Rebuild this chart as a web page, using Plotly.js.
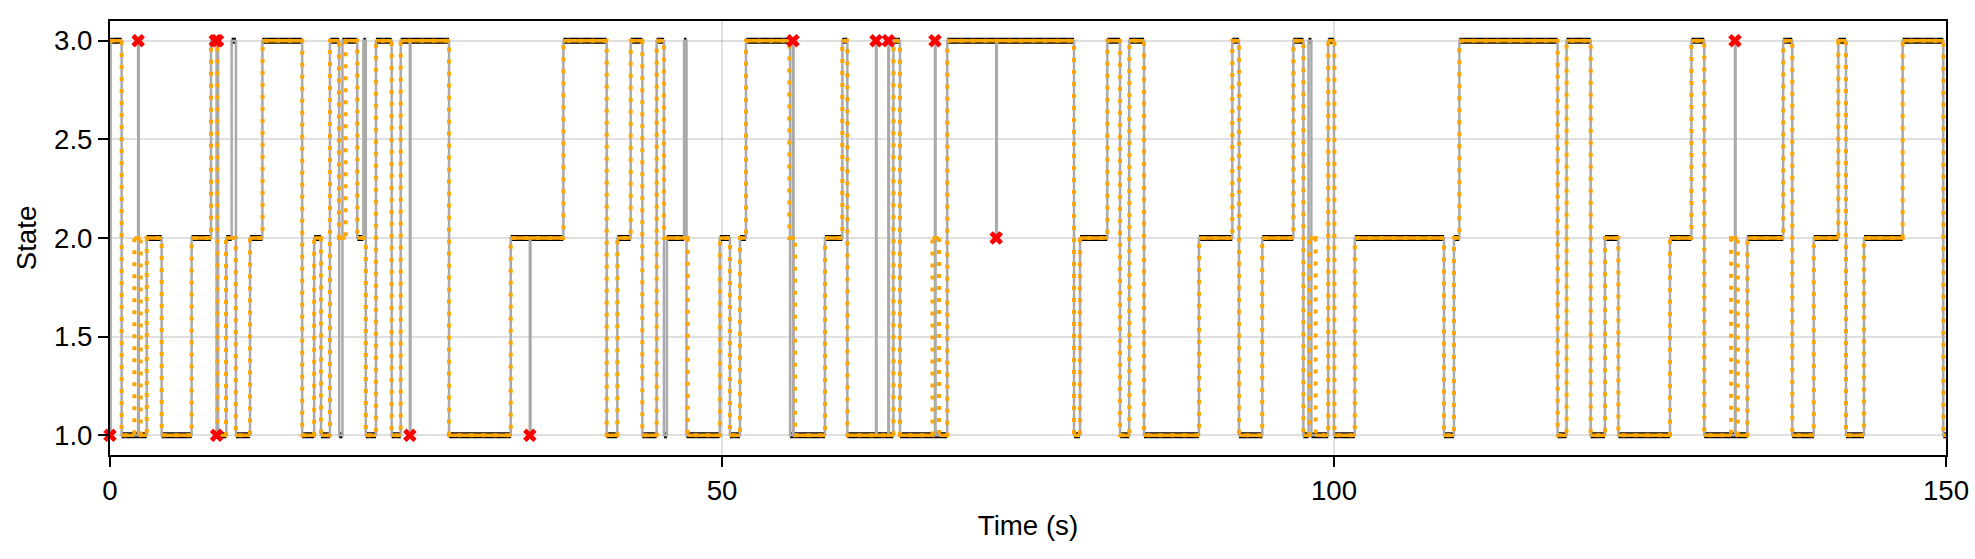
<!DOCTYPE html>
<html>
<head>
<meta charset="utf-8">
<script src="https://cdn.plot.ly/plotly-3.0.1.min.js"></script>
<style>
html,body{margin:0;padding:0;background:#fff;}
#chart{width:1975px;height:559px;}
</style>
</head>
<body>
<div id="chart"></div>
<script>
// ---- data ----
const trueTimes  = [0, 0.95, 3.0, 4.22, 6.67, 8.25, 8.75, 9.5, 9.94, 10.29, 11.44, 12.45, 15.7, 16.68, 17.24, 17.97, 18.72, 18.99, 20.2, 20.7, 20.9, 21.73, 23.01, 23.75, 27.7, 32.74, 37.04, 40.58, 41.45, 42.54, 43.49, 44.66, 45.26, 45.5, 46.9, 47.1, 49.82, 50.65, 51.47, 51.96, 55.56, 58.41, 59.83, 60.24, 64.0, 64.54, 68.4, 78.76, 79.25, 81.48, 82.52, 83.27, 84.48, 88.97, 91.69, 92.24, 94.14, 96.68, 97.5, 97.92, 98.15, 99.53, 100.0, 101.7, 108.99, 109.8, 110.24, 118.27, 119.0, 120.97, 122.14, 123.23, 127.45, 129.2, 130.25, 133.77, 136.7, 137.44, 139.2, 141.2, 141.83, 143.3, 146.46, 149.78];
const trueStates = [3, 1, 2, 1, 2, 3, 1, 2, 3, 1, 2, 3, 1, 2, 1, 3, 1, 3, 2, 3, 1, 3, 1, 3, 1, 2, 3, 1, 2, 3, 1, 3, 1, 2, 3, 1, 2, 1, 2, 3, 1, 2, 3, 1, 3, 1, 3, 1, 2, 3, 1, 3, 1, 2, 3, 1, 2, 3, 1, 3, 1, 3, 1, 2, 1, 2, 3, 1, 3, 1, 2, 1, 2, 3, 1, 2, 3, 1, 2, 3, 1, 2, 3, 1];

const decodedTimes  = [0, 0.95, 1.99, 2.5, 3.0, 4.22, 6.67, 8.25, 8.77, 9.48, 10.27, 11.44, 12.46, 15.71, 16.68, 17.24, 17.97, 18.7, 19.25, 20.2, 20.9, 21.73, 23.01, 23.75, 27.7, 32.74, 37.04, 40.58, 41.45, 42.54, 43.49, 44.66, 45.26, 47.2, 49.84, 50.65, 51.47, 51.96, 55.5, 55.96, 58.41, 59.83, 60.24, 64.0, 64.54, 67.2, 67.73, 68.4, 78.76, 79.25, 81.48, 82.52, 83.28, 84.48, 88.97, 91.69, 92.24, 94.14, 96.68, 97.5, 97.98, 98.5, 99.53, 100.03, 101.7, 108.99, 109.8, 110.24, 118.27, 119.0, 120.97, 122.14, 123.23, 127.45, 129.2, 130.25, 132.44, 132.98, 133.77, 136.7, 137.44, 139.2, 141.2, 141.83, 143.3, 146.46, 149.78];
const decodedStates = [3, 1, 2, 1, 2, 1, 2, 3, 1, 2, 1, 2, 3, 1, 2, 1, 3, 2, 3, 2, 1, 3, 1, 3, 1, 2, 3, 1, 2, 3, 1, 3, 2, 1, 2, 1, 2, 3, 2, 1, 2, 3, 1, 3, 1, 2, 1, 3, 1, 2, 3, 1, 3, 1, 2, 3, 1, 2, 3, 1, 2, 1, 3, 1, 2, 1, 2, 3, 1, 3, 1, 2, 1, 2, 3, 1, 2, 1, 2, 3, 1, 2, 3, 1, 2, 3, 1];

const errorTimes  = [0, 2.3, 8.6, 8.78, 8.71, 24.5, 34.3, 55.8, 62.58, 63.59, 67.4, 72.4, 132.76];
const errorStates = [1, 3, 3, 3, 1, 1, 1, 3, 3, 3, 3, 2, 3];

const tEnd = 150;
const xTicks = [0, 50, 100, 150];
const yTicks = [1.0, 1.5, 2.0, 2.5, 3.0];
const xLabel = 'Time (s)';
const yLabel = 'State';

// ---- helpers ----
function stateAt(times, states, t) {
  let s = states[0];
  for (let i = 0; i < times.length; i++) { if (times[i] <= t + 1e-9) s = states[i]; else break; }
  return s;
}
function horizSegments(times, states, end) {
  const x = [], y = [];
  for (let i = 0; i < times.length; i++) {
    const t1 = i + 1 < times.length ? times[i + 1] : end;
    x.push(times[i], t1, null);
    y.push(states[i], states[i], null);
  }
  return {x, y};
}
function stepPath(times, states, end) {
  return {x: times.concat([end]), y: states.concat([states[states.length - 1]])};
}

// observation series: true state with the erroneous samples substituted
const sampleDt = 0.05;
const bpSet = new Set(trueTimes);
errorTimes.forEach(t => { bpSet.add(t); bpSet.add(+(t + sampleDt).toFixed(4)); });
const bps = Array.from(bpSet).sort((a, b) => a - b);
function obsAt(t) {
  for (let k = 0; k < errorTimes.length; k++) {
    if (t >= errorTimes[k] - 1e-9 && t < errorTimes[k] + sampleDt - 1e-9) return errorStates[k];
  }
  return stateAt(trueTimes, trueStates, t);
}
const obsTimes = [], obsStates = [];
bps.forEach(t => {
  const s = obsAt(t);
  if (!obsStates.length || obsStates[obsStates.length - 1] !== s) { obsTimes.push(t); obsStates.push(s); }
});

const blackSeg = horizSegments(trueTimes, trueStates, tEnd);
const obsPath = stepPath(obsTimes, obsStates, tEnd);
const decSeg = horizSegments(decodedTimes, decodedStates, tEnd);
const decPath = stepPath(decodedTimes, decodedStates, tEnd);

const ORANGE = '#FFA500';
const traces = [
  {x: blackSeg.x, y: blackSeg.y, mode: 'lines', line: {color: '#000000', width: 6}, connectgaps: false, hoverinfo: 'skip'},
  {x: obsPath.x, y: obsPath.y, mode: 'lines', line: {color: '#aaaaaa', width: 2.5, shape: 'hv'}, hoverinfo: 'skip'},
  {x: decSeg.x, y: decSeg.y, mode: 'lines', line: {color: ORANGE, width: 3.5}, connectgaps: false, hoverinfo: 'skip'},
  {x: decPath.x, y: decPath.y, mode: 'lines', line: {color: ORANGE, width: 4, shape: 'hv', dash: '4px,8px'}, hoverinfo: 'skip'},
  {x: errorTimes, y: errorStates, mode: 'markers', marker: {symbol: 'x', size: 12, color: '#ff0000', line: {width: 0}}, hoverinfo: 'skip', cliponaxis: false}
];

const axisCommon = {
  ticks: 'outside', ticklen: 10, tickwidth: 2, tickcolor: '#000',
  showline: true, linecolor: '#000', linewidth: 2, mirror: true,
  showgrid: true, gridcolor: 'rgba(0,0,0,0.12)', gridwidth: 2,
  zeroline: false, automargin: false,
  tickfont: {family: 'Liberation Sans, Arial, sans-serif', size: 27.65, color: '#000'}
};

const layout = {
  width: 1975, height: 559,
  margin: {l: 110, r: 29, t: 21, b: 104, pad: 0},
  paper_bgcolor: '#ffffff', plot_bgcolor: '#ffffff',
  showlegend: false,
  font: {family: 'Liberation Sans, Arial, sans-serif', size: 27.65, color: '#000'},
  xaxis: Object.assign({}, axisCommon, {
    range: [0, tEnd], tickmode: 'array', tickvals: xTicks, ticktext: xTicks.map(String),
    title: {text: xLabel, standoff: 10, font: {size: 27.65}}
  }),
  yaxis: Object.assign({}, axisCommon, {
    range: [0.9, 3.1], tickmode: 'array', tickvals: yTicks, ticktext: yTicks.map(v => v.toFixed(1)),
    title: {text: yLabel, standoff: 9, font: {size: 27.65}}
  })
};

Plotly.newPlot('chart', traces, layout, {displayModeBar: false, staticPlot: true});
</script>
</body>
</html>
